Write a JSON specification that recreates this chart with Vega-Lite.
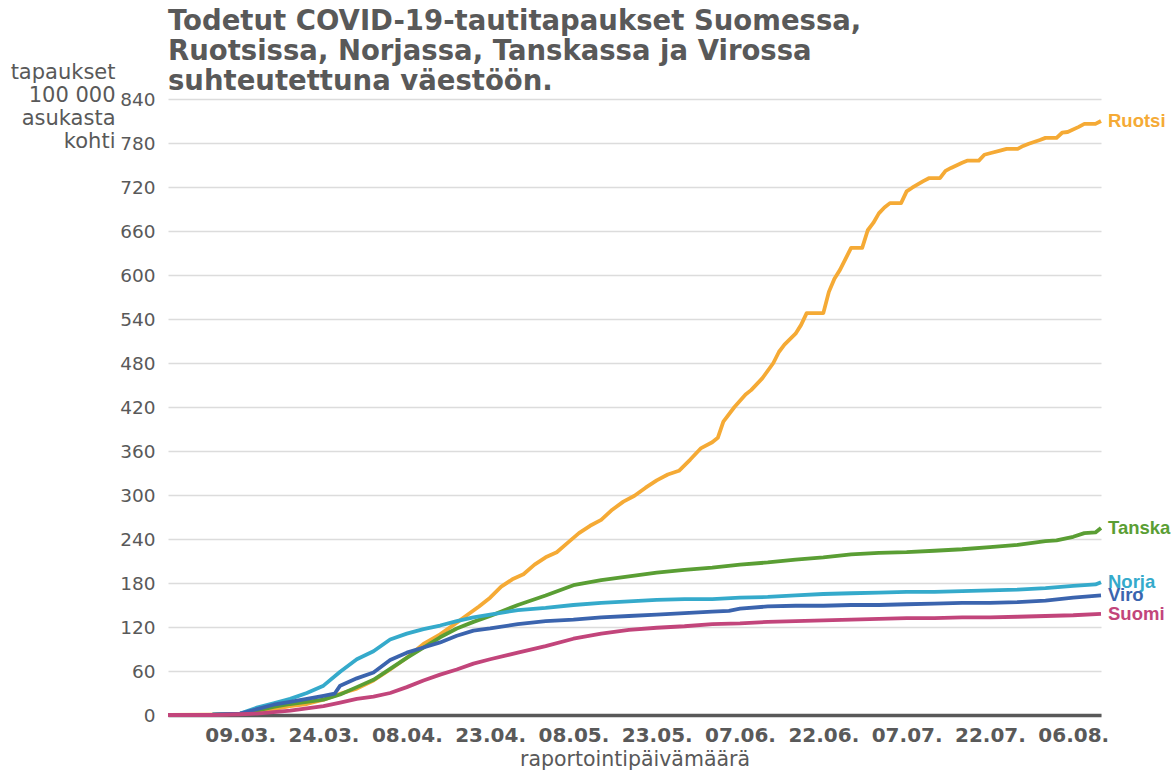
{
  "$schema": "https://vega.github.io/schema/vega-lite/v6.json",
  "width": 933,
  "height": 616,
  "autosize": "none",
  "padding": {"left": 168, "top": 99, "right": 72, "bottom": 59},
  "background": "white",
  "title": {
    "text": ["Todetut COVID-19-tautitapaukset Suomessa,", "Ruotsissa, Norjassa, Tanskassa ja Virossa", "suhteutettuna väestöön."],
    "font": "DejaVu Sans",
    "fontSize": 27.5,
    "fontWeight": "bold",
    "color": "#595959",
    "anchor": "start",
    "frame": "group",
    "lineHeight": 30,
    "offset": -34
  },
  "config": {
    "view": {"stroke": null},
    "font": "DejaVu Sans"
  },
  "data": {
    "values": [
      {"d":"2020-02-25","c":"Ruotsi","v":0},{"d":"2020-03-04","c":"Ruotsi","v":0.5},{"d":"2020-03-09","c":"Ruotsi","v":1.5},{"d":"2020-03-12","c":"Ruotsi","v":4},{"d":"2020-03-15","c":"Ruotsi","v":8},{"d":"2020-03-18","c":"Ruotsi","v":12},{"d":"2020-03-21","c":"Ruotsi","v":15},{"d":"2020-03-24","c":"Ruotsi","v":21},{"d":"2020-03-27","c":"Ruotsi","v":29},{"d":"2020-03-30","c":"Ruotsi","v":36},{"d":"2020-04-02","c":"Ruotsi","v":47},{"d":"2020-04-05","c":"Ruotsi","v":62},{"d":"2020-04-08","c":"Ruotsi","v":78},{"d":"2020-04-11","c":"Ruotsi","v":97},{"d":"2020-04-14","c":"Ruotsi","v":110},{"d":"2020-04-17","c":"Ruotsi","v":126},{"d":"2020-04-19","c":"Ruotsi","v":137},{"d":"2020-04-21","c":"Ruotsi","v":148},{"d":"2020-04-23","c":"Ruotsi","v":160},{"d":"2020-04-25","c":"Ruotsi","v":175},{"d":"2020-04-27","c":"Ruotsi","v":185},{"d":"2020-04-29","c":"Ruotsi","v":192},{"d":"2020-05-01","c":"Ruotsi","v":205},{"d":"2020-05-03","c":"Ruotsi","v":215},{"d":"2020-05-05","c":"Ruotsi","v":222},{"d":"2020-05-07","c":"Ruotsi","v":235},{"d":"2020-05-09","c":"Ruotsi","v":248},{"d":"2020-05-11","c":"Ruotsi","v":258},{"d":"2020-05-13","c":"Ruotsi","v":266},{"d":"2020-05-15","c":"Ruotsi","v":280},{"d":"2020-05-17","c":"Ruotsi","v":291},{"d":"2020-05-19","c":"Ruotsi","v":299},{"d":"2020-05-21","c":"Ruotsi","v":310},{"d":"2020-05-23","c":"Ruotsi","v":320},{"d":"2020-05-25","c":"Ruotsi","v":328},{"d":"2020-05-27","c":"Ruotsi","v":333},{"d":"2020-05-29","c":"Ruotsi","v":348},{"d":"2020-05-31","c":"Ruotsi","v":364},{"d":"2020-06-02","c":"Ruotsi","v":372},{"d":"2020-06-03","c":"Ruotsi","v":378},{"d":"2020-06-04","c":"Ruotsi","v":400},{"d":"2020-06-06","c":"Ruotsi","v":420},{"d":"2020-06-08","c":"Ruotsi","v":437},{"d":"2020-06-09","c":"Ruotsi","v":443},{"d":"2020-06-11","c":"Ruotsi","v":459},{"d":"2020-06-13","c":"Ruotsi","v":480},{"d":"2020-06-14","c":"Ruotsi","v":495},{"d":"2020-06-15","c":"Ruotsi","v":505},{"d":"2020-06-17","c":"Ruotsi","v":520},{"d":"2020-06-18","c":"Ruotsi","v":532},{"d":"2020-06-19","c":"Ruotsi","v":548},{"d":"2020-06-22","c":"Ruotsi","v":548},{"d":"2020-06-23","c":"Ruotsi","v":577},{"d":"2020-06-24","c":"Ruotsi","v":595},{"d":"2020-06-25","c":"Ruotsi","v":607},{"d":"2020-06-26","c":"Ruotsi","v":622},{"d":"2020-06-27","c":"Ruotsi","v":637},{"d":"2020-06-29","c":"Ruotsi","v":637},{"d":"2020-06-30","c":"Ruotsi","v":661},{"d":"2020-07-01","c":"Ruotsi","v":671},{"d":"2020-07-02","c":"Ruotsi","v":684},{"d":"2020-07-03","c":"Ruotsi","v":692},{"d":"2020-07-04","c":"Ruotsi","v":698},{"d":"2020-07-06","c":"Ruotsi","v":698},{"d":"2020-07-07","c":"Ruotsi","v":714},{"d":"2020-07-08","c":"Ruotsi","v":719},{"d":"2020-07-10","c":"Ruotsi","v":728},{"d":"2020-07-11","c":"Ruotsi","v":732},{"d":"2020-07-13","c":"Ruotsi","v":732},{"d":"2020-07-14","c":"Ruotsi","v":742},{"d":"2020-07-15","c":"Ruotsi","v":746},{"d":"2020-07-17","c":"Ruotsi","v":753},{"d":"2020-07-18","c":"Ruotsi","v":756},{"d":"2020-07-20","c":"Ruotsi","v":756},{"d":"2020-07-21","c":"Ruotsi","v":764},{"d":"2020-07-22","c":"Ruotsi","v":766},{"d":"2020-07-24","c":"Ruotsi","v":770},{"d":"2020-07-25","c":"Ruotsi","v":772},{"d":"2020-07-27","c":"Ruotsi","v":772},{"d":"2020-07-28","c":"Ruotsi","v":776},{"d":"2020-07-29","c":"Ruotsi","v":779},{"d":"2020-07-31","c":"Ruotsi","v":784},{"d":"2020-08-01","c":"Ruotsi","v":787},{"d":"2020-08-03","c":"Ruotsi","v":787},{"d":"2020-08-04","c":"Ruotsi","v":794},{"d":"2020-08-05","c":"Ruotsi","v":795},{"d":"2020-08-07","c":"Ruotsi","v":802},{"d":"2020-08-08","c":"Ruotsi","v":806},{"d":"2020-08-10","c":"Ruotsi","v":806},{"d":"2020-08-11","c":"Ruotsi","v":810},

      {"d":"2020-02-25","c":"Tanska","v":0},{"d":"2020-03-04","c":"Tanska","v":0.5},{"d":"2020-03-09","c":"Tanska","v":2},{"d":"2020-03-12","c":"Tanska","v":6},{"d":"2020-03-15","c":"Tanska","v":11},{"d":"2020-03-18","c":"Tanska","v":15},{"d":"2020-03-21","c":"Tanska","v":18},{"d":"2020-03-24","c":"Tanska","v":21},{"d":"2020-03-27","c":"Tanska","v":28},{"d":"2020-03-30","c":"Tanska","v":38},{"d":"2020-04-02","c":"Tanska","v":48},{"d":"2020-04-05","c":"Tanska","v":63},{"d":"2020-04-08","c":"Tanska","v":78},{"d":"2020-04-11","c":"Tanska","v":92},{"d":"2020-04-14","c":"Tanska","v":106},{"d":"2020-04-17","c":"Tanska","v":118},{"d":"2020-04-20","c":"Tanska","v":127},{"d":"2020-04-23","c":"Tanska","v":135},{"d":"2020-04-28","c":"Tanska","v":150},{"d":"2020-05-03","c":"Tanska","v":163},{"d":"2020-05-08","c":"Tanska","v":177},{"d":"2020-05-13","c":"Tanska","v":184},{"d":"2020-05-18","c":"Tanska","v":189},{"d":"2020-05-23","c":"Tanska","v":194},{"d":"2020-05-28","c":"Tanska","v":198},{"d":"2020-06-02","c":"Tanska","v":201},{"d":"2020-06-07","c":"Tanska","v":205},{"d":"2020-06-12","c":"Tanska","v":208},{"d":"2020-06-17","c":"Tanska","v":212},{"d":"2020-06-22","c":"Tanska","v":215},{"d":"2020-06-27","c":"Tanska","v":219},{"d":"2020-07-02","c":"Tanska","v":221},{"d":"2020-07-07","c":"Tanska","v":222},{"d":"2020-07-12","c":"Tanska","v":224},{"d":"2020-07-17","c":"Tanska","v":226},{"d":"2020-07-22","c":"Tanska","v":229},{"d":"2020-07-27","c":"Tanska","v":232},{"d":"2020-08-01","c":"Tanska","v":237},{"d":"2020-08-03","c":"Tanska","v":238},{"d":"2020-08-06","c":"Tanska","v":243},{"d":"2020-08-08","c":"Tanska","v":248},{"d":"2020-08-10","c":"Tanska","v":249},{"d":"2020-08-11","c":"Tanska","v":255},

      {"d":"2020-02-25","c":"Norja","v":0},{"d":"2020-03-04","c":"Norja","v":0.5},{"d":"2020-03-09","c":"Norja","v":2},{"d":"2020-03-12","c":"Norja","v":10},{"d":"2020-03-15","c":"Norja","v":16},{"d":"2020-03-18","c":"Norja","v":22},{"d":"2020-03-21","c":"Norja","v":30},{"d":"2020-03-24","c":"Norja","v":40},{"d":"2020-03-27","c":"Norja","v":59},{"d":"2020-03-30","c":"Norja","v":76},{"d":"2020-04-02","c":"Norja","v":87},{"d":"2020-04-05","c":"Norja","v":103},{"d":"2020-04-08","c":"Norja","v":111},{"d":"2020-04-11","c":"Norja","v":117},{"d":"2020-04-14","c":"Norja","v":122},{"d":"2020-04-17","c":"Norja","v":128},{"d":"2020-04-20","c":"Norja","v":133},{"d":"2020-04-23","c":"Norja","v":137},{"d":"2020-04-28","c":"Norja","v":143},{"d":"2020-05-03","c":"Norja","v":146},{"d":"2020-05-08","c":"Norja","v":150},{"d":"2020-05-13","c":"Norja","v":153},{"d":"2020-05-18","c":"Norja","v":155},{"d":"2020-05-23","c":"Norja","v":157},{"d":"2020-05-28","c":"Norja","v":158},{"d":"2020-06-02","c":"Norja","v":158},{"d":"2020-06-07","c":"Norja","v":160},{"d":"2020-06-12","c":"Norja","v":161},{"d":"2020-06-17","c":"Norja","v":163},{"d":"2020-06-22","c":"Norja","v":165},{"d":"2020-06-27","c":"Norja","v":166},{"d":"2020-07-02","c":"Norja","v":167},{"d":"2020-07-07","c":"Norja","v":168},{"d":"2020-07-12","c":"Norja","v":168},{"d":"2020-07-17","c":"Norja","v":169},{"d":"2020-07-22","c":"Norja","v":170},{"d":"2020-07-27","c":"Norja","v":171},{"d":"2020-08-01","c":"Norja","v":173},{"d":"2020-08-06","c":"Norja","v":176},{"d":"2020-08-10","c":"Norja","v":178},{"d":"2020-08-11","c":"Norja","v":181},

      {"d":"2020-02-25","c":"Viro","v":0},{"d":"2020-03-04","c":"Viro","v":0.5},{"d":"2020-03-09","c":"Viro","v":2},{"d":"2020-03-12","c":"Viro","v":8},{"d":"2020-03-15","c":"Viro","v":14},{"d":"2020-03-18","c":"Viro","v":18},{"d":"2020-03-21","c":"Viro","v":22},{"d":"2020-03-24","c":"Viro","v":26},{"d":"2020-03-26","c":"Viro","v":29},{"d":"2020-03-27","c":"Viro","v":40},{"d":"2020-03-30","c":"Viro","v":50},{"d":"2020-04-02","c":"Viro","v":58},{"d":"2020-04-05","c":"Viro","v":75},{"d":"2020-04-08","c":"Viro","v":85},{"d":"2020-04-11","c":"Viro","v":92},{"d":"2020-04-14","c":"Viro","v":99},{"d":"2020-04-17","c":"Viro","v":108},{"d":"2020-04-20","c":"Viro","v":115},{"d":"2020-04-23","c":"Viro","v":118},{"d":"2020-04-28","c":"Viro","v":124},{"d":"2020-05-03","c":"Viro","v":128},{"d":"2020-05-08","c":"Viro","v":130},{"d":"2020-05-13","c":"Viro","v":133},{"d":"2020-05-18","c":"Viro","v":135},{"d":"2020-05-23","c":"Viro","v":137},{"d":"2020-05-28","c":"Viro","v":139},{"d":"2020-06-02","c":"Viro","v":141},{"d":"2020-06-05","c":"Viro","v":142},{"d":"2020-06-07","c":"Viro","v":145},{"d":"2020-06-12","c":"Viro","v":148},{"d":"2020-06-17","c":"Viro","v":149},{"d":"2020-06-22","c":"Viro","v":149},{"d":"2020-06-27","c":"Viro","v":150},{"d":"2020-07-02","c":"Viro","v":150},{"d":"2020-07-07","c":"Viro","v":151},{"d":"2020-07-12","c":"Viro","v":152},{"d":"2020-07-17","c":"Viro","v":153},{"d":"2020-07-22","c":"Viro","v":153},{"d":"2020-07-27","c":"Viro","v":154},{"d":"2020-08-01","c":"Viro","v":156},{"d":"2020-08-06","c":"Viro","v":160},{"d":"2020-08-11","c":"Viro","v":163},

      {"d":"2020-02-25","c":"Suomi","v":0},{"d":"2020-03-04","c":"Suomi","v":0},{"d":"2020-03-09","c":"Suomi","v":1},{"d":"2020-03-12","c":"Suomi","v":2},{"d":"2020-03-15","c":"Suomi","v":4},{"d":"2020-03-18","c":"Suomi","v":6},{"d":"2020-03-21","c":"Suomi","v":9},{"d":"2020-03-24","c":"Suomi","v":12},{"d":"2020-03-27","c":"Suomi","v":17},{"d":"2020-03-30","c":"Suomi","v":22},{"d":"2020-04-02","c":"Suomi","v":25},{"d":"2020-04-05","c":"Suomi","v":30},{"d":"2020-04-08","c":"Suomi","v":38},{"d":"2020-04-11","c":"Suomi","v":47},{"d":"2020-04-14","c":"Suomi","v":55},{"d":"2020-04-17","c":"Suomi","v":62},{"d":"2020-04-20","c":"Suomi","v":70},{"d":"2020-04-23","c":"Suomi","v":76},{"d":"2020-04-28","c":"Suomi","v":85},{"d":"2020-05-03","c":"Suomi","v":94},{"d":"2020-05-08","c":"Suomi","v":104},{"d":"2020-05-13","c":"Suomi","v":111},{"d":"2020-05-18","c":"Suomi","v":116},{"d":"2020-05-23","c":"Suomi","v":119},{"d":"2020-05-28","c":"Suomi","v":121},{"d":"2020-06-02","c":"Suomi","v":124},{"d":"2020-06-07","c":"Suomi","v":125},{"d":"2020-06-12","c":"Suomi","v":127},{"d":"2020-06-17","c":"Suomi","v":128},{"d":"2020-06-22","c":"Suomi","v":129},{"d":"2020-06-27","c":"Suomi","v":130},{"d":"2020-07-02","c":"Suomi","v":131},{"d":"2020-07-07","c":"Suomi","v":132},{"d":"2020-07-12","c":"Suomi","v":132},{"d":"2020-07-17","c":"Suomi","v":133},{"d":"2020-07-22","c":"Suomi","v":133},{"d":"2020-07-27","c":"Suomi","v":134},{"d":"2020-08-01","c":"Suomi","v":135},{"d":"2020-08-06","c":"Suomi","v":136},{"d":"2020-08-11","c":"Suomi","v":138}
    ]
  },
  "encoding": {
    "color": {
      "field": "c",
      "type": "nominal",
      "legend": null,
      "scale": {
        "domain": ["Suomi", "Viro", "Norja", "Tanska", "Ruotsi"],
        "range": ["#C2457B", "#3B64AE", "#35AACB", "#5A9E34", "#F5AA35"]
      }
    }
  },
  "layer": [
    {
      "mark": {"type": "line", "strokeWidth": 3.8, "strokeJoin": "round", "interpolate": "linear"},
      "encoding": {
        "x": {
          "field": "d",
          "type": "temporal",
          "scale": {"type": "utc", "domain": [{"year": 2020, "month": 2, "date": 25, "utc": true}, {"year": 2020, "month": 8, "date": 11, "utc": true}]},
          "axis": {
            "values": [
              {"year": 2020, "month": 3, "date": 9, "utc": true},
              {"year": 2020, "month": 3, "date": 24, "utc": true},
              {"year": 2020, "month": 4, "date": 8, "utc": true},
              {"year": 2020, "month": 4, "date": 23, "utc": true},
              {"year": 2020, "month": 5, "date": 8, "utc": true},
              {"year": 2020, "month": 5, "date": 23, "utc": true},
              {"year": 2020, "month": 6, "date": 7, "utc": true},
              {"year": 2020, "month": 6, "date": 22, "utc": true},
              {"year": 2020, "month": 7, "date": 7, "utc": true},
              {"year": 2020, "month": 7, "date": 22, "utc": true},
              {"year": 2020, "month": 8, "date": 6, "utc": true}
            ],
            "labelExpr": "utcFormat(datum.value, '%d.%m.')",
            "grid": false,
            "ticks": false,
            "domainColor": "#595959",
            "domainWidth": 3.5,
            "labelFont": "DejaVu Sans",
            "labelFontSize": 20,
            "labelFontWeight": "bold",
            "labelColor": "#595959",
            "labelPadding": 10,
            "labelFlush": false,
            "labelOverlap": false,
            "title": "raportointipäivämäärä",
            "titleFont": "DejaVu Sans",
            "titleFontSize": 20.5,
            "titleFontWeight": "normal",
            "titleColor": "#595959",
            "titlePadding": 4
          }
        },
        "y": {
          "field": "v",
          "type": "quantitative",
          "scale": {"domain": [0, 840], "nice": false},
          "axis": {
            "values": [0, 60, 120, 180, 240, 300, 360, 420, 480, 540, 600, 660, 720, 780, 840],
            "domain": false,
            "ticks": false,
            "gridColor": "#dcdcdc",
            "gridWidth": 1.5,
            "labelFont": "DejaVu Sans",
            "labelFontSize": 18.5,
            "labelColor": "#595959",
            "labelPadding": 13,
            "title": ["tapaukset", "100 000", "asukasta", "kohti"],
            "titleAngle": 0,
            "titleAlign": "right",
            "titleBaseline": "top",
            "titleX": -53,
            "titleY": -38,
            "titleFont": "DejaVu Sans",
            "titleFontSize": 21,
            "titleFontWeight": "normal",
            "titleColor": "#595959",
            "titleLineHeight": 23
          }
        }
      }
    },
    {
      "mark": {"type": "text", "align": "left", "baseline": "middle", "dx": 7, "font": "Liberation Sans", "fontSize": 18.5, "fontWeight": "bold"},
      "encoding": {
        "x": {"aggregate": {"argmax": "d"}, "field": "d", "type": "temporal"},
        "y": {"aggregate": {"argmax": "d"}, "field": "v", "type": "quantitative"},
        "text": {"field": "c", "type": "nominal"}
      }
    }
  ]
}
